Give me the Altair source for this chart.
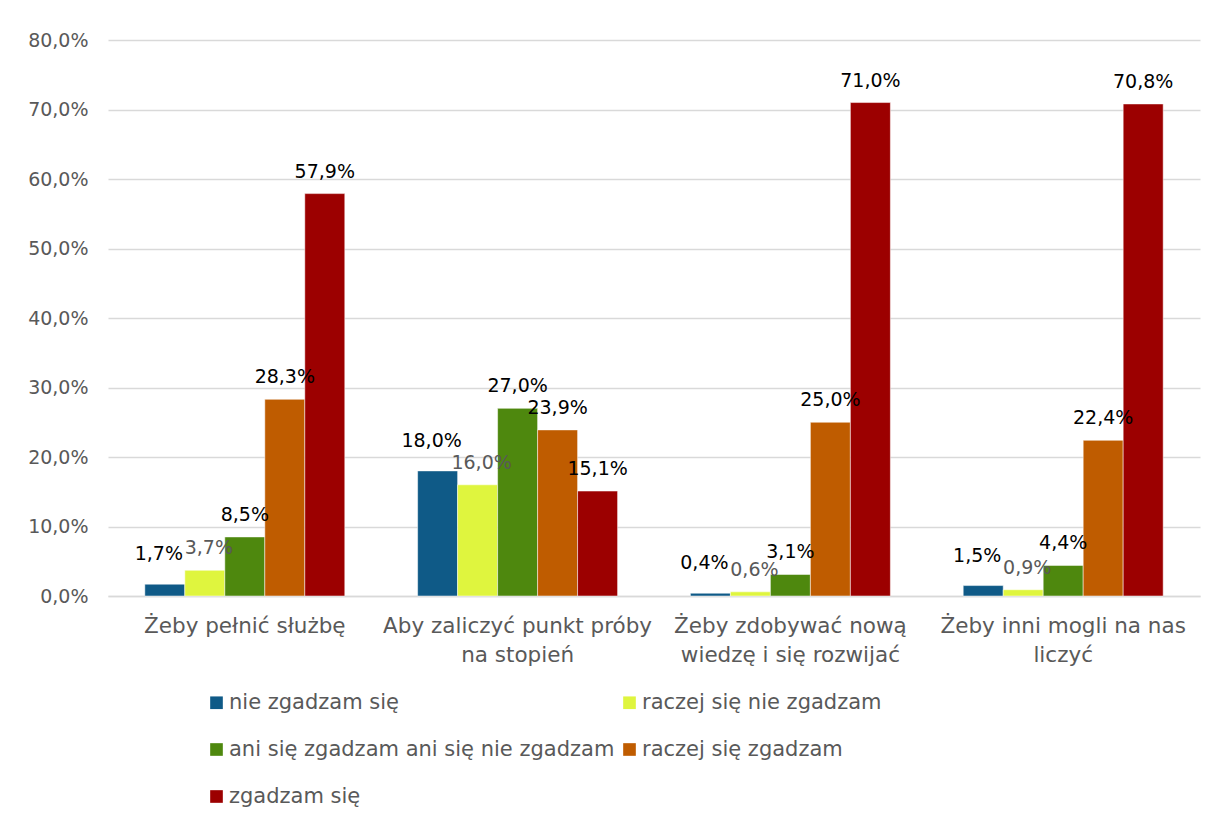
import altair as alt
import pandas as pd

categories = [
    "Żeby pełnić służbę",
    "Aby zaliczyć punkt próby\nna stopień",
    "Żeby zdobywać nową\nwiedzę i się rozwijać",
    "Żeby inni mogli na nas\nliczyć",
]
series = [
    "nie zgadzam się",
    "raczej się nie zgadzam",
    "ani się zgadzam ani się nie zgadzam",
    "raczej się zgadzam",
    "zgadzam się",
]
colors = ["#0f5a87", "#dff53e", "#4e880e", "#bf5c00", "#9c0000"]

nie_zgadzam = [1.7, 18.0, 0.4, 1.5]
raczej_nie = [3.7, 16.0, 0.6, 0.9]
ani_ani = [8.5, 27.0, 3.1, 4.4]
raczej_tak = [28.3, 23.9, 25.0, 22.4]
zgadzam = [57.9, 15.1, 71.0, 70.8]

y_ticks = [0, 10, 20, 30, 40, 50, 60, 70, 80]

values_by_series = [nie_zgadzam, raczej_nie, ani_ani, raczej_tak, zgadzam]
rows = []
for s, vals in zip(series, values_by_series):
    for c, v in zip(categories, vals):
        rows.append({"kategoria": c, "odpowiedz": s, "wartosc": v})
df = pd.DataFrame(rows)

FONT = "DejaVu Sans"
GREY = "#595959"

x_enc = alt.X(
    "kategoria:N",
    sort=categories,
    scale=alt.Scale(paddingInner=0.267, paddingOuter=0.135),
    axis=alt.Axis(
        title=None,
        labelAngle=0,
        labelExpr="split(datum.label, '\\n')",
        labelFontSize=21.5,
        labelColor=GREY,
        labelFont=FONT,
        labelPadding=19,
        labelLineHeight=29,
        labelLimit=400,
        ticks=False,
        domain=True,
        domainColor="#d9d9d9",
        domainWidth=1.5,
        grid=False,
    ),
)
xoff = alt.XOffset("odpowiedz:N", sort=series, scale=alt.Scale(paddingInner=0, paddingOuter=0))

y_enc = alt.Y(
    "wartosc:Q",
    scale=alt.Scale(domain=[0, 80], nice=False),
    axis=alt.Axis(
        title=None,
        values=y_ticks,
        labelExpr="replace(format(datum.value, '.1f'), '.', ',') + '%'",
        labelFontSize=19,
        labelColor=GREY,
        labelFont=FONT,
        labelPadding=20,
        ticks=False,
        domain=False,
        gridColor="#d9d9d9",
        gridWidth=1.5,
    ),
)

base = alt.Chart(df)

bars = base.mark_bar(stroke="white", strokeWidth=0.5).encode(
    x=x_enc,
    xOffset=xoff,
    y=y_enc,
    color=alt.Color(
        "odpowiedz:N",
        sort=series,
        scale=alt.Scale(domain=series, range=colors),
        legend=alt.Legend(
            title=None,
            orient="none",
            legendX=98,
            legendY=652,
            columns=2,
            direction="horizontal",
            symbolType="square",
            symbolSize=160,
            symbolStrokeWidth=0,
            labelFontSize=21,
            labelColor=GREY,
            labelFont=FONT,
            labelOffset=2,
            rowPadding=25,
            columnPadding=4,
            labelLimit=500,
        ),
    ),
)


def label_layer(filter_expr, dx, dy, color):
    return (
        base.transform_filter(filter_expr)
        .transform_calculate(
            etykieta="replace(format(datum.wartosc, '.1f'), '.', ',') + '%'"
        )
        .mark_text(baseline="bottom", dx=dx, dy=dy, fontSize=19, font=FONT, color=color)
        .encode(
            x=alt.X("kategoria:N", sort=categories),
            xOffset=xoff,
            y=alt.Y("wartosc:Q"),
            text="etykieta:N",
        )
    )


lab_blue = label_layer(alt.datum.odpowiedz == series[0], -6, -20, "#000000")
lab_yellow = label_layer(alt.datum.odpowiedz == series[1], 4, -12, GREY)
lab_rest = label_layer(
    (alt.datum.odpowiedz != series[0]) & (alt.datum.odpowiedz != series[1]), 0, -12, "#000000"
)

chart = (
    alt.layer(bars, lab_blue, lab_yellow, lab_rest)
    .properties(
        width=1092,
        height=556,
        autosize=alt.AutoSizeParams(type="none"),
        padding={"left": 100, "top": 32, "right": 8, "bottom": 216},
        background="white",
    )
    .configure_view(stroke=None)
)

chart.save("out.html", embed_options={"renderer": "svg", "actions": False})
